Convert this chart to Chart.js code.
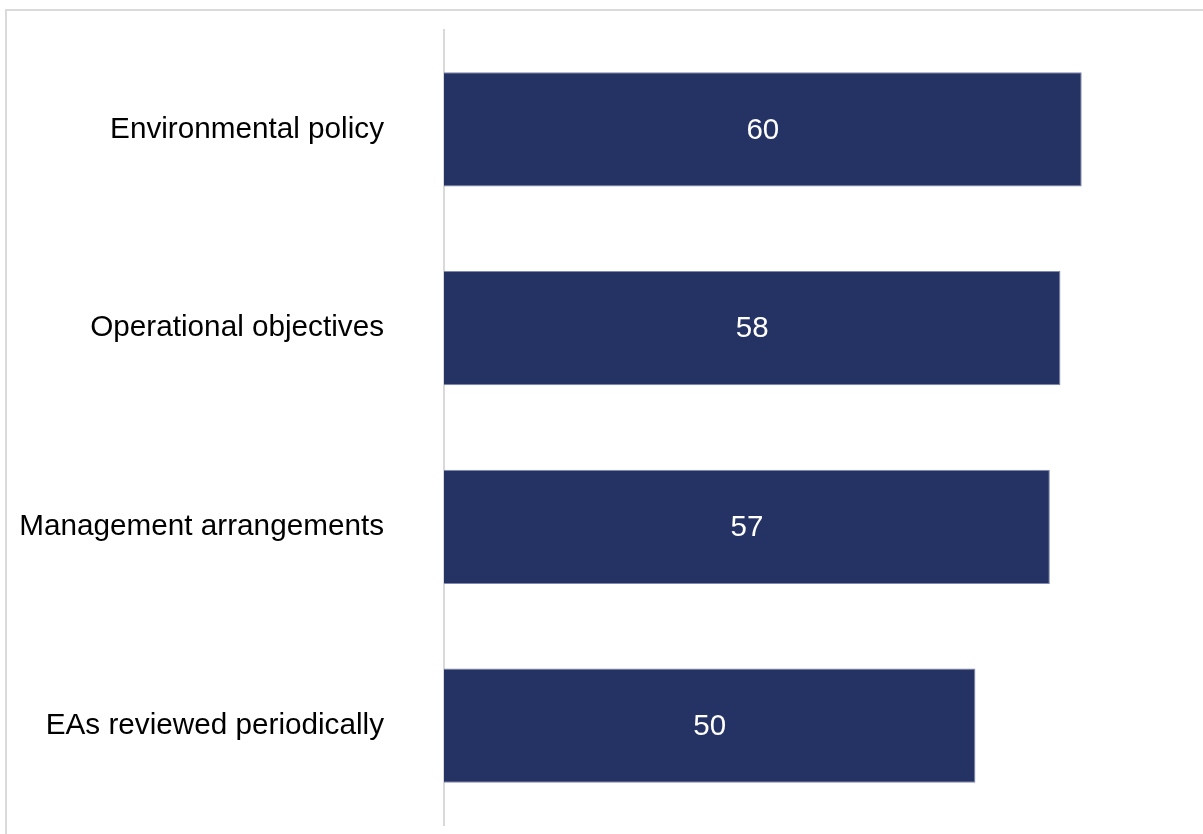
<!DOCTYPE html>
<html>
<head>
<meta charset="utf-8">
<title>Environmental arrangements</title>
<script src="https://cdn.jsdelivr.net/npm/chart.js@4/dist/chart.umd.min.js"></script>
<style>
  html, body { margin: 0; padding: 0; background: #ffffff; }
  #wrap { position: relative; width: 1203px; height: 834px; overflow: hidden; }
  #chart { position: absolute; left: 0; top: 0; }
  .frame-top { position: absolute; left: 5px; top: 9px; width: 1198px; height: 2px; background: #dadada; }
  .frame-left { position: absolute; left: 5px; top: 9px; width: 2px; height: 825px; background: #dadada; }
</style>
</head>
<body>
<div id="wrap">
  <canvas id="chart" width="1203" height="834"></canvas>
  <div class="frame-top"></div>
  <div class="frame-left"></div>
</div>
<script>
// Categories and values (count of arrangements)
const categories = [
  'Environmental policy',
  'Operational objectives',
  'Management arrangements',
  'EAs reviewed periodically'
];
const values = [60, 58, 57, 50];
const axisMin = 0;
const axisMax = 70;

const FONT = '"Liberation Sans", Arial, Helvetica, sans-serif';
const BAR_COLOR = '#253264';

// Writes each bar's value in white at the centre of the bar
const valueLabels = {
  id: 'valueLabels',
  afterDatasetsDraw(chart) {
    const ctx = chart.ctx;
    const meta = chart.getDatasetMeta(0);
    ctx.save();
    ctx.font = '29.5px ' + FONT;
    ctx.fillStyle = '#ffffff';
    ctx.textAlign = 'center';
    ctx.textBaseline = 'middle';
    meta.data.forEach((bar, i) => {
      const v = chart.data.datasets[0].data[i];
      const cx = (bar.x + bar.base) / 2;
      ctx.fillText(String(v), cx, bar.y + 1);
    });
    ctx.restore();
  }
};

new Chart(document.getElementById('chart'), {
  type: 'bar',
  data: {
    labels: categories,
    datasets: [{
      data: values,
      backgroundColor: BAR_COLOR,
      borderColor: '#8089ad',
      borderWidth: 1,
      borderSkipped: 'start',
      barPercentage: 0.574,
      categoryPercentage: 1
    }]
  },
  options: {
    indexAxis: 'y',
    responsive: false,
    animation: false,
    layout: { padding: { top: 30, bottom: 9, right: 15, left: 0 } },
    plugins: {
      legend: { display: false },
      tooltip: { enabled: false }
    },
    scales: {
      x: {
        display: false,
        min: axisMin,
        max: axisMax
      },
      y: {
        afterFit(scale) {
          scale.width = 444;
          scale.paddingTop = 0;
          scale.paddingBottom = 0;
        },
        grid: {
          display: true,
          drawOnChartArea: false,
          drawTicks: true,
          tickLength: 60,
          tickColor: 'rgba(0,0,0,0)'
        },
        border: { display: true, color: '#d9d9d9', width: 2 },
        ticks: {
          padding: 0,
          color: '#000000',
          font: { family: FONT, size: 29.7 }
        }
      }
    }
  },
  plugins: [valueLabels]
});
</script>
</body>
</html>
